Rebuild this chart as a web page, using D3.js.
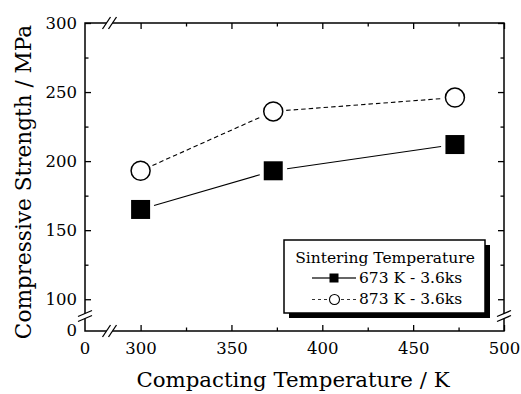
<!DOCTYPE html>
<html>
<head>
<meta charset="utf-8">
<script src="https://cdn.jsdelivr.net/npm/d3@7"></script>
<style>
  body { margin: 0; background: #fff; }
  svg { display: block; font-family: "DejaVu Serif", serif; }
</style>
</head>
<body>
<script>
const w = 521;
const h = 394;

const compactTemps = [300, 373, 473];
const strength673 = [165, 193, 212];
const strength873 = [193, 236, 246];
const xTicks = [300, 350, 400, 450, 500];
const yTicks = [100, 150, 200, 250, 300];
const xMinor = [325, 375, 425, 475];
const yMinor = [125, 175, 225, 275];
const breakLabel = "0";
const seriesNames = ["673 K - 3.6ks", "873 K - 3.6ks"];

const plotLeft = 85, plotRight = 504, plotTop = 23, plotBottom = 331;

const svg = d3.select("body").append("svg").attr("width", w).attr("height", h);

const xScale = d3.scaleLinear().domain([269.4, 500]).range([plotLeft, plotRight]);
const yScale = d3.scaleLinear().domain([77, 300]).range([plotBottom, plotTop]);

function axisGroup(axis, tx, ty, size, labels) {
  const g = svg.append("g").attr("transform", `translate(${tx},${ty})`).call(axis);
  g.select(".domain").remove();
  g.selectAll("line").attr("stroke", "#000").attr("stroke-width", 1.3);
  g.selectAll("text").attr("font-size", size).attr("fill", "#000")
    .attr("font-family", "DejaVu Serif");
  if (!labels) g.selectAll("text").remove();
  return g;
}

// major ticks (inward)
axisGroup(d3.axisBottom(xScale).tickValues(xTicks).tickSize(-6).tickPadding(11), 0, plotBottom, 16.5, true);
axisGroup(d3.axisTop(xScale).tickValues(xTicks).tickSize(-6), 0, plotTop, 16, false);
axisGroup(d3.axisLeft(yScale).tickValues(yTicks).tickSize(-6).tickPadding(8), plotLeft, 0, 16.5, true);
axisGroup(d3.axisRight(yScale).tickValues(yTicks).tickSize(-6), plotRight, 0, 16, false);
// minor ticks
axisGroup(d3.axisBottom(xScale).tickValues(xMinor).tickSize(-3.5), 0, plotBottom, 16, false);
axisGroup(d3.axisTop(xScale).tickValues(xMinor).tickSize(-3.5), 0, plotTop, 16, false);
axisGroup(d3.axisLeft(yScale).tickValues(yMinor).tickSize(-3.5), plotLeft, 0, 16, false);
axisGroup(d3.axisRight(yScale).tickValues(yMinor).tickSize(-3.5), plotRight, 0, 16, false);

// frame
svg.append("rect")
  .attr("x", plotLeft).attr("y", plotTop)
  .attr("width", plotRight - plotLeft).attr("height", plotBottom - plotTop)
  .attr("fill", "none").attr("stroke", "#000").attr("stroke-width", 1.5);

// axis breaks
function hBreak(cx, cy) {
  const g = svg.append("g");
  g.append("polygon")
    .attr("points", `${cx - 7},${cy + 6} ${cx + 1},${cy - 6} ${cx + 7},${cy - 6} ${cx - 1},${cy + 6}`)
    .attr("fill", "#fff");
  [-3, 3].forEach((o) => {
    g.append("line")
      .attr("x1", cx + o - 4).attr("y1", cy + 6)
      .attr("x2", cx + o + 4).attr("y2", cy - 6)
      .attr("stroke", "#000").attr("stroke-width", 1.3);
  });
}
function vBreak(cx, cy) {
  const g = svg.append("g");
  g.append("polygon")
    .attr("points", `${cx - 7},${cy + 0.5} ${cx + 7},${cy - 5.5} ${cx + 7},${cy - 0.5} ${cx - 7},${cy + 5.5}`)
    .attr("fill", "#fff");
  [-2.5, 2.5].forEach((o) => {
    g.append("line")
      .attr("x1", cx - 7).attr("y1", cy + o + 3)
      .attr("x2", cx + 7).attr("y2", cy + o - 3)
      .attr("stroke", "#000").attr("stroke-width", 1.3);
  });
}
hBreak(109.5, plotTop);
hBreak(109.5, plotBottom);
vBreak(plotLeft, 316);
vBreak(plotRight, 316);

// "0" labels at the broken ends
svg.append("text").attr("x", plotLeft).attr("y", 353.5).attr("text-anchor", "middle")
  .attr("font-size", 16.5).text(breakLabel);
svg.append("text").attr("x", plotLeft - 8).attr("y", plotBottom).attr("dy", "0.32em")
  .attr("text-anchor", "end").attr("font-size", 16.5).text(breakLabel);

// axis titles
svg.append("text").attr("x", 293).attr("y", 387).attr("text-anchor", "middle")
  .attr("font-size", 21.3).text("Compacting Temperature / K");
svg.append("text").attr("transform", "translate(31,182) rotate(-90)")
  .attr("text-anchor", "middle").attr("font-size", 21.6)
  .text("Compressive Strength / MPa");

// lines with gaps near the symbols
function gappedLine(values, gap, dash) {
  const pts = compactTemps.map((t, i) => [xScale(t), yScale(values[i])]);
  for (let i = 0; i < pts.length - 1; i++) {
    const [x1, y1] = pts[i], [x2, y2] = pts[i + 1];
    const len = Math.hypot(x2 - x1, y2 - y1);
    const ux = (x2 - x1) / len, uy = (y2 - y1) / len;
    svg.append("line")
      .attr("x1", x1 + ux * gap).attr("y1", y1 + uy * gap)
      .attr("x2", x2 - ux * gap).attr("y2", y2 - uy * gap)
      .attr("stroke", "#000").attr("stroke-width", 1.1)
      .attr("stroke-dasharray", dash);
  }
}
gappedLine(strength673, 14, null);
gappedLine(strength873, 13, "4.5,3");

const sq = 19;
svg.selectAll(".sq").data(compactTemps).enter().append("rect")
  .attr("class", "sq")
  .attr("x", (d) => xScale(d) - sq / 2)
  .attr("y", (d, i) => yScale(strength673[i]) - sq / 2)
  .attr("width", sq).attr("height", sq)
  .attr("fill", "#000");

svg.selectAll(".circ").data(compactTemps).enter().append("circle")
  .attr("class", "circ")
  .attr("cx", (d) => xScale(d))
  .attr("cy", (d, i) => yScale(strength873[i]))
  .attr("r", 9.5)
  .attr("fill", "#fff").attr("stroke", "#000").attr("stroke-width", 1.5);

// legend
const legend = svg.append("g").attr("transform", "translate(284,240)");
legend.append("rect").attr("x", 5).attr("y", 5).attr("width", 201).attr("height", 73).attr("fill", "#000");
legend.append("rect").attr("x", 0).attr("y", 0).attr("width", 201).attr("height", 73)
  .attr("fill", "#fff").attr("stroke", "#000").attr("stroke-width", 1.5);
legend.append("text").attr("x", 101).attr("y", 23).attr("text-anchor", "middle")
  .attr("font-size", 15.5).text("Sintering Temperature");

legend.append("line").attr("x1", 28).attr("x2", 72).attr("y1", 38).attr("y2", 38)
  .attr("stroke", "#333").attr("stroke-width", 1.3);
legend.append("rect").attr("x", 45.5).attr("y", 33.5).attr("width", 9).attr("height", 9).attr("fill", "#000");
legend.append("text").attr("x", 75).attr("y", 43).attr("font-size", 15.5).text(seriesNames[0]);

legend.append("line").attr("x1", 28).attr("x2", 44).attr("y1", 59.5).attr("y2", 59.5)
  .attr("stroke", "#333").attr("stroke-width", 1.1).attr("stroke-dasharray", "3,3");
legend.append("line").attr("x1", 57).attr("x2", 73).attr("y1", 59.5).attr("y2", 59.5)
  .attr("stroke", "#333").attr("stroke-width", 1.1).attr("stroke-dasharray", "3,3");
legend.append("circle").attr("cx", 50.5).attr("cy", 59.5).attr("r", 5)
  .attr("fill", "#fff").attr("stroke", "#000").attr("stroke-width", 1.1);
legend.append("text").attr("x", 75).attr("y", 64).attr("font-size", 15.5).text(seriesNames[1]);
</script>
</body>
</html>
